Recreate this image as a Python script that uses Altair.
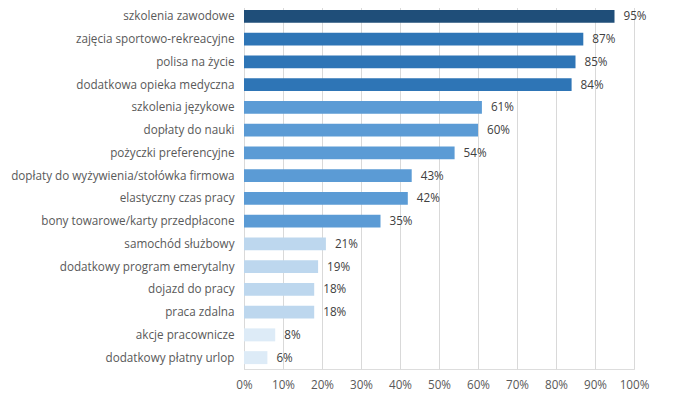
import altair as alt
import pandas as pd

categories = [
    "szkolenia zawodowe",
    "zajęcia sportowo-rekreacyjne",
    "polisa na życie",
    "dodatkowa opieka medyczna",
    "szkolenia językowe",
    "dopłaty do nauki",
    "pożyczki preferencyjne",
    "dopłaty do wyżywienia/stołówka firmowa",
    "elastyczny czas pracy",
    "bony towarowe/karty przedpłacone",
    "samochód służbowy",
    "dodatkowy program emerytalny",
    "dojazd do pracy",
    "praca zdalna",
    "akcje pracownicze",
    "dodatkowy płatny urlop",
]
values = [95, 87, 85, 84, 61, 60, 54, 43, 42, 35, 21, 19, 18, 18, 8, 6]
groups = ["a", "b", "b", "b", "c", "c", "c", "c", "c", "c", "d", "d", "d", "d", "e", "e"]
group_names = ["a", "b", "c", "d", "e"]
group_colors = ["#1f4e79", "#2e75b6", "#5b9bd5", "#bdd7ee", "#ddebf7"]
x_ticks = [0, 10, 20, 30, 40, 50, 60, 70, 80, 90, 100]

df = pd.DataFrame({
    "cat": categories,
    "val": [v / 100 for v in values],
    "grp": groups,
    "lbl": [f"{v}%" for v in values],
})

font = "Open Sans"
tc = "#595959"
fs = 11.7

y = alt.Y("cat:N", sort=categories, title=None,
          scale=alt.Scale(paddingInner=0.43, paddingOuter=0.215),
          axis=alt.Axis(labelFont=font, labelFontSize=fs, labelColor=tc,
                        labelPadding=10, ticks=False, domain=True,
                        domainColor="#d9d9d9", labelLimit=300))
x = alt.X("val:Q", title=None,
          scale=alt.Scale(domain=[0, 1], nice=False),
          axis=alt.Axis(format=".0%", values=[t / 100 for t in x_ticks],
                        labelFont=font, labelFontSize=fs, labelColor=tc,
                        labelOverlap=False, labelFlush=False,
                        labelPadding=10, ticks=False, domain=False,
                        grid=True, gridColor="#d9d9d9"))

base = alt.Chart(df).encode(x=x, y=y)
bars = base.mark_bar().encode(
    color=alt.Color("grp:N", scale=alt.Scale(domain=group_names, range=group_colors), legend=None),
)
text = base.mark_text(align="left", dx=9, font=font, fontSize=fs, color="#404040").encode(
    text="lbl:N",
)

chart = (bars + text).properties(
    width=390, height=364,
    autosize=alt.AutoSizeParams(type="none"),
    padding={"left": 236, "top": -3, "right": 40, "bottom": 30},
).configure_view(strokeOpacity=0).configure(background="white")

chart.save("out.html", embed_options={"renderer": "svg", "actions": False})
